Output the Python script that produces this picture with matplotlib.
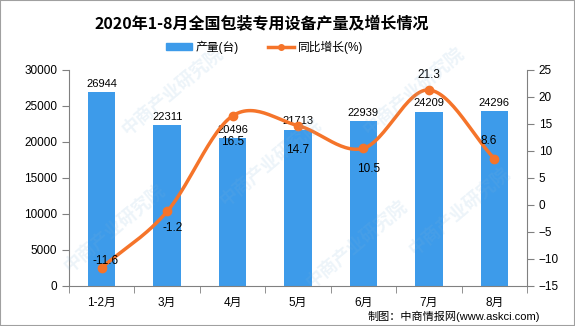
import matplotlib
import matplotlib.pyplot as plt
import numpy as np
from matplotlib.lines import Line2D
from matplotlib.patches import Patch, Rectangle

matplotlib.use("Agg")

plt.rcParams["font.family"] = ["Liberation Sans", "Noto Sans CJK SC", "DejaVu Sans"]

months = ["1-2月", "3月", "4月", "5月", "6月", "7月", "8月"]
output = [26944, 22311, 20496, 21713, 22939, 24209, 24296]
growth = [-11.6, -1.2, 16.5, 14.7, 10.5, 21.3, 8.6]

BAR = "#3d9bea"
LINE = "#f5742a"


def catmull_rom(x, y, n=30):
    # smooth curve through the points, like the original's smoothed line
    x = np.asarray(x, float)
    y = np.asarray(y, float)
    px = np.concatenate([[2 * x[0] - x[1]], x, [2 * x[-1] - x[-2]]])
    py = np.concatenate([[2 * y[0] - y[1]], y, [2 * y[-1] - y[-2]]])
    xs, ys = [], []
    t = np.linspace(0, 1, n)
    for i in range(1, len(px) - 2):
        for p, out in ((px, xs), (py, ys)):
            p0, p1, p2, p3 = p[i - 1], p[i], p[i + 1], p[i + 2]
            out.extend(0.5 * (2 * p1 + (-p0 + p2) * t
                              + (2 * p0 - 5 * p1 + 4 * p2 - p3) * t ** 2
                              + (-p0 + 3 * p1 - 3 * p2 + p3) * t ** 3))
    return np.array(xs), np.array(ys)


fig = plt.figure(figsize=(5.75, 3.26), dpi=100)
ax = fig.add_axes([0.12, 0.1227, 0.7965, 0.6626])
ax2 = ax.twinx()

x = np.arange(len(months))
ax.bar(x, output, width=0.42, color=BAR, zorder=2)
for xi, v in zip(x, output):
    ax.text(xi, v + 1150, str(v), ha="center", va="center", fontsize=8, zorder=5)

ax.set_xlim(-0.5, len(months) - 0.5)
ax.set_ylim(0, 30000)
ax.set_yticks(range(0, 30001, 5000))
ax.set_xticks(x)
ax.set_xticklabels(months)
ax.set_xticks(np.arange(-0.5, len(months), 1), minor=True)
ax.tick_params(axis="x", which="major", length=0, pad=8, labelsize=8.5)
ax.tick_params(axis="x", which="minor", length=5, color="#808080")
ax.tick_params(axis="y", length=5, color="#808080", labelsize=8.5)

ax2.set_ylim(-15, 25)
ax2.set_yticks(range(-15, 26, 5))
ax2.tick_params(axis="y", length=5, color="#808080", labelsize=8.5)

cx, cy = catmull_rom(x, growth)
ax2.plot(cx, cy, color=LINE, lw=2.5, zorder=3)
ax2.plot(x, growth, "o", color=LINE, ms=6, zorder=4)

# label offsets (category units, percent units) as placed in the original
offsets = [(0.06, 1.3), (0.08, -3.1), (0.0, -4.9), (0.0, -4.6), (0.08, -3.9), (0.0, 2.8), (-0.08, 3.3)]
for xi, v, (dx, dy) in zip(x, growth, offsets):
    ax2.text(xi + dx, v + dy, f"{v}", ha="center", va="center", fontsize=8.5, zorder=5)

for s in ("top", "right"):
    ax.spines[s].set_visible(False)
for s in ("top", "left", "bottom"):
    ax2.spines[s].set_visible(False)
ax.spines["left"].set_color("#808080")
ax.spines["bottom"].set_color("#808080")
ax2.spines["right"].set_color("#808080")

fig.text(0.456, 0.93, "2020年1-8月全国包装专用设备产量及增长情况", ha="center", va="center",
         fontsize=11.5, fontweight="bold", family=["Noto Sans CJK SC"])

handles = [Patch(color=BAR),
           Line2D([0], [0], color=LINE, lw=2.5, marker="o", ms=4)]
fig.legend(handles, ["产量(台)", "同比增长(%)"], loc="center", bbox_to_anchor=(0.46, 0.855),
           ncol=2, frameon=False, fontsize=8.5, handlelength=2.2, handleheight=0.6,
           columnspacing=2.5, handletextpad=0.3)

fig.text(0.94, 0.03, "制图：中商情报网(www.askci.com)", ha="right", va="center", fontsize=8)

# faint watermark
for wx, wy in [(0.3, 0.72), (0.47, 0.5), (0.72, 0.72), (0.8, 0.35), (0.2, 0.3), (0.62, 0.25)]:
    fig.text(wx, wy, "中商产业研究院", rotation=40, fontsize=13, color="#7fb2d9", alpha=0.14,
             ha="center", va="center", fontweight="bold", family=["Noto Sans CJK SC"])

fig.patches.append(Rectangle((0, 0), 1, 1, transform=fig.transFigure, fill=False,
                             edgecolor="#a0a0a0", lw=1.5))

fig.savefig("out.png", dpi=100, facecolor="white")
